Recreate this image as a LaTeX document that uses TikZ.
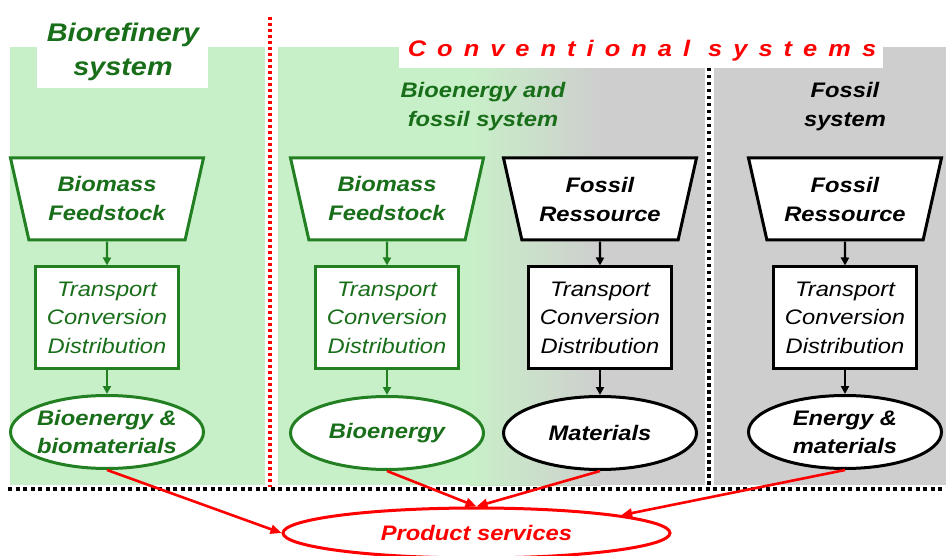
\documentclass[tikz,border=0pt]{standalone}
\usepackage{fontspec}
\setmainfont{Liberation Sans}[FakeStretch=1.13]
\newfontfamily\spacedfont{Liberation Sans}[FakeStretch=1.13,LetterSpace=49]
\usetikzlibrary{shapes.geometric,arrows.meta}
\definecolor{bgreen}{RGB}{200,240,200}
\definecolor{bgray}{RGB}{206,206,206}
\definecolor{dgreen}{RGB}{34,128,34}
\definecolor{tgreen}{RGB}{25,110,25}
\definecolor{pred}{RGB}{255,0,0}
\begin{document}
\begin{tikzpicture}[x=1pt,y=-1pt,
  every node/.style={align=center, inner sep=0pt},
  bi/.style={font=\fontsize{21}{29}\selectfont\bfseries\itshape},
  trap/.style={trapezium, trapezium stretches body=true, shape border rotate=180,
    trapezium angle=67.5, minimum width=193, minimum height=82, fill=white,
    line width=3pt, font=\fontsize{21}{29}\selectfont\bfseries\itshape},
  proc/.style={rectangle, minimum width=143, minimum height=101, fill=white,
    line width=3pt, font=\fontsize{21}{28.5}\selectfont\itshape},
  outp/.style={ellipse, minimum width=193, minimum height=73, fill=white,
    inner xsep=-6pt, line width=3pt, font=\fontsize{21}{28}\selectfont\bfseries\itshape},
  gr/.style={draw=dgreen, text=tgreen},
  bk/.style={draw=black, text=black},
  flow/.style={line width=2.4pt, -{Triangle[length=8pt,width=8pt]}},
  redflow/.style={draw=pred, line width=2.6pt, -{Triangle[length=11pt,width=9pt]}}
]
\useasboundingbox (0,0) rectangle (946,556);
% backgrounds
\fill[bgreen] (10,47) rectangle (265,485);
\fill[bgreen] (278,47) rectangle (470,485);
\shade[left color=bgreen, right color=bgray] (469.5,47) rectangle (600.5,485);
\fill[bgray] (600,47) rectangle (705,485);
\fill[bgray] (714,47) rectangle (946,485);
\fill[white] (37,15) rectangle (208,88);
\fill[white] (399,38) rectangle (883,68);
% separators
\draw[pred, line width=3.2pt, dash pattern=on 3pt off 3pt] (270,17) -- (270,487);
\draw[black, line width=3.5pt, dash pattern=on 3.5pt off 3.5pt] (709,68) -- (709,487);
\draw[black, line width=4pt, dash pattern=on 4pt off 3.5pt] (8,489) -- (946,489);
% titles
\node[text=tgreen, font=\fontsize{25.5}{34}\selectfont\bfseries\itshape] (bioref) at (123,52) {Biorefinery\\system};
\node[text=pred, font=\fontsize{22.5}{26}\spacedfont\bfseries\itshape] (conv) at (642,51) {Conventional systems};
\node[bi, text=tgreen] (bfs) at (483,107) {Bioenergy and\\fossil system};
\node[bi, text=black] (fs) at (845,107) {Fossil\\system};
% column 1
\node[trap, gr] (t1) at (107,199) {Biomass\\Feedstock};
\node[proc, gr] (p1) at (107,317.5) {Transport\\Conversion\\Distribution};
\node[outp, gr] (o1) at (107,432) {Bioenergy \&\\biomaterials};
% column 2
\node[trap, gr] (t2) at (387,199) {Biomass\\Feedstock};
\node[proc, gr] (p2) at (387,317.5) {Transport\\Conversion\\Distribution};
\node[outp, gr] (o2) at (387,433) {Bioenergy};
% column 3
\node[trap, bk] (t3) at (600,199) {Fossil\\Ressource};
\node[proc, bk] (p3) at (600,317.5) {Transport\\Conversion\\Distribution};
\node[outp, bk] (o3) at (600,433) {Materials};
% column 4
\node[trap, bk] (t4) at (845,199) {Fossil\\Ressource};
\node[proc, bk] (p4) at (845,317.5) {Transport\\Conversion\\Distribution};
\node[outp, bk] (o4) at (845,432) {Energy \&\\materials};
% product services
\node[ellipse, draw=pred, line width=3pt, fill=white, minimum width=387, minimum height=50,
  text=pred, bi] (ps) at (476.5,533) {Product services};
% vertical flows
\draw[flow, dgreen] (t1) -- (p1);
\draw[flow, dgreen] (p1) -- (o1);
\draw[flow, dgreen] (t2) -- (p2);
\draw[flow, dgreen] (p2) -- (o2);
\draw[flow, black] (t3) -- (p3);
\draw[flow, black] (p3) -- (o3);
\draw[flow, black] (t4) -- (p4);
\draw[flow, black] (p4) -- (o4);
% to product services
\draw[redflow] (o1.south) -- (ps.west);
\draw[redflow] (o2.south) -- (ps.north);
\draw[redflow] (o3.south) -- (ps.north);
\draw[redflow] (o4.south) -- (ps.7);
\end{tikzpicture}
\end{document}
